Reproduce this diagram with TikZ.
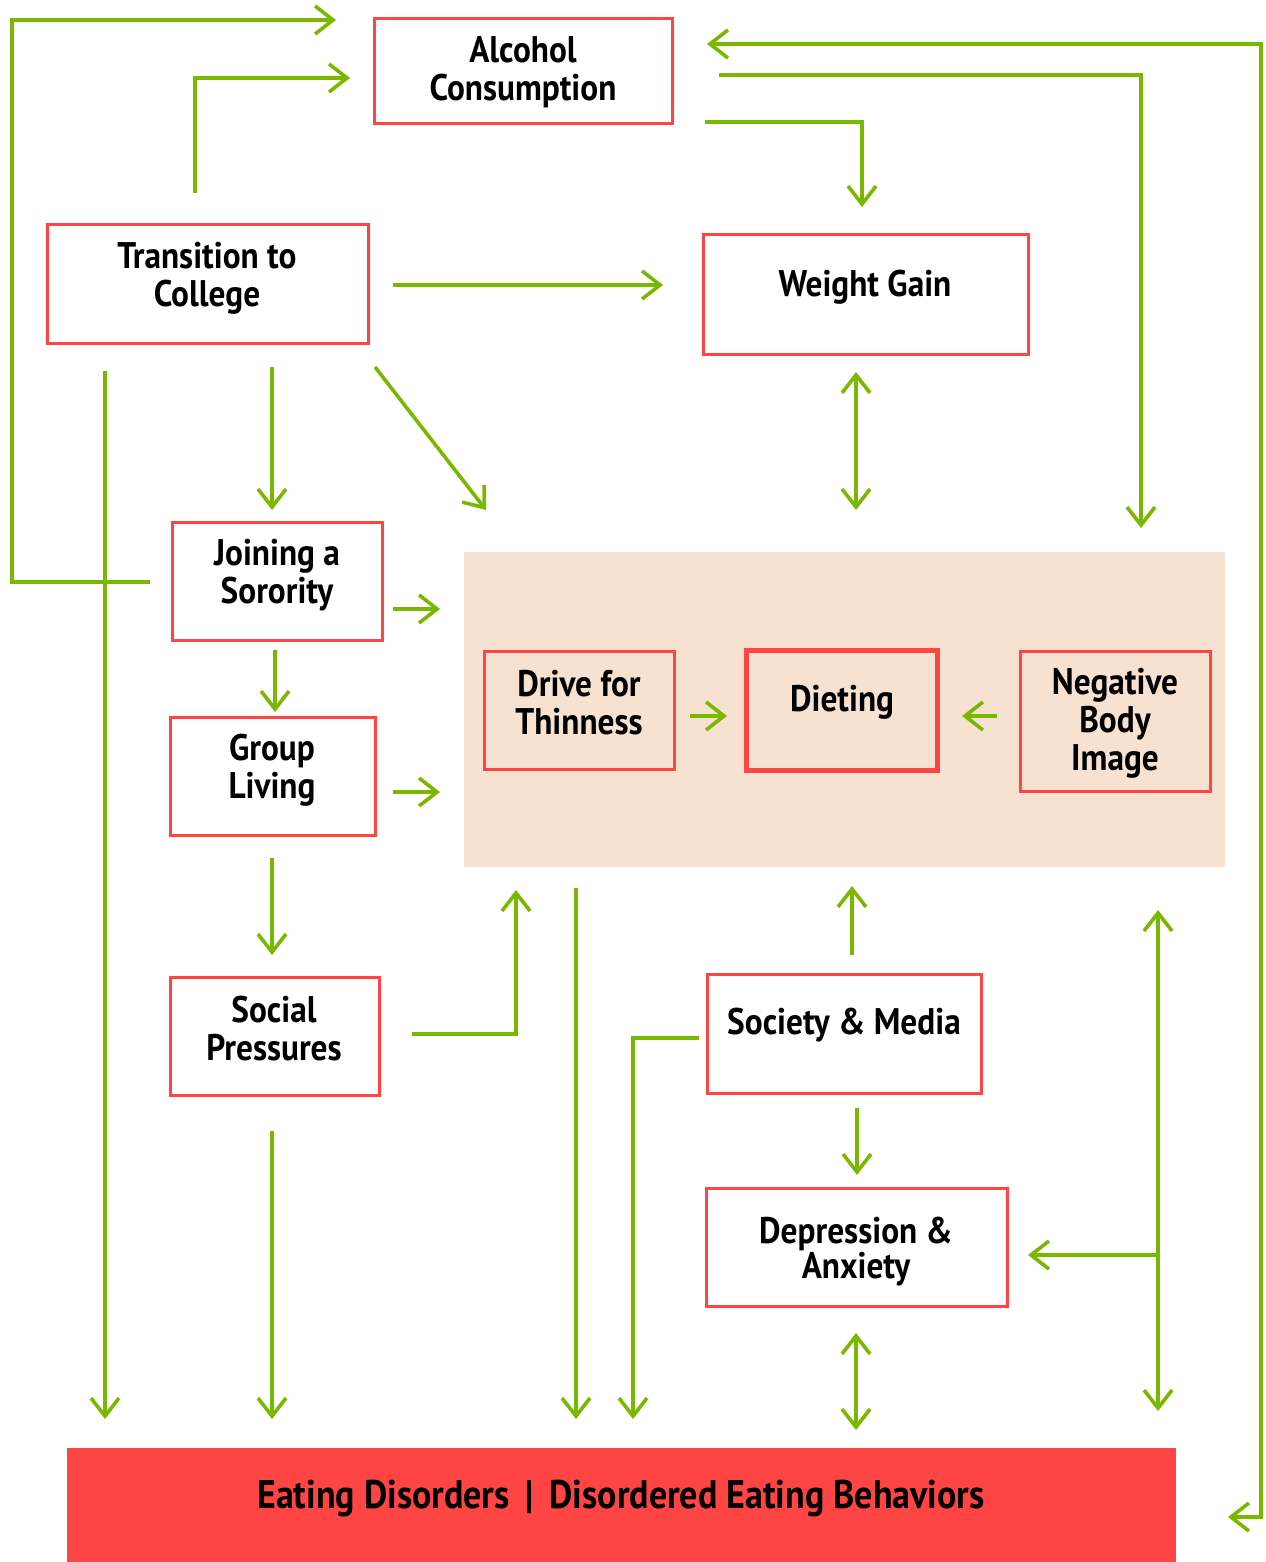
\documentclass[tikz,border=0pt]{standalone}
\usepackage{fontspec}
\setmainfont{PT Sans}[FakeStretch=0.9]
\usetikzlibrary{arrows.meta,calc}
\definecolor{grn}{RGB}{122,184,0}
\definecolor{rd}{RGB}{255,68,68}
\definecolor{pch}{RGB}{247,226,210}
\begin{document}
\begin{tikzpicture}[x=0.5pt,y=-0.5pt,every node/.style={outer sep=0pt},
  box/.style={draw=rd,line width=1.5pt,fill=white,inner sep=0pt},
  pbox/.style={draw=rd,line width=1.5pt,fill=pch,inner sep=0pt},
  txt/.style={align=center,font=\fontsize{18.5}{19}\selectfont\bfseries,inner sep=0pt},
  arr/.style={draw=grn,line width=1.8pt,-{Straight Barb[length=9pt,width=14pt,line width=1.8pt]}},
  dbl/.style={draw=grn,line width=1.8pt,{Straight Barb[length=9pt,width=14pt,line width=1.8pt]}-{Straight Barb[length=9pt,width=14pt,line width=1.8pt]}},
  ln/.style={draw=grn,line width=1.8pt}]
\useasboundingbox (0,0) rectangle (1265,1562);
% backgrounds
\node[fill=pch,minimum width=380.5pt,minimum height=157.5pt,inner sep=0pt] (peach) at (844.5,709.5) {};
\node[fill=rd,minimum width=554.5pt,minimum height=57pt,inner sep=0pt] (bar) at (621.5,1505) {};
% boxes
\node[box,minimum width=149pt,minimum height=52.5pt] (alc) at (523,71.5) {};
\node[box,minimum width=160.5pt,minimum height=59pt] (trans) at (207.5,284) {};
\node[box,minimum width=162.5pt,minimum height=59.5pt] (wg) at (865.5,294.5) {};
\node[box,minimum width=105pt,minimum height=59pt] (join) at (277,581) {};
\node[box,minimum width=102.5pt,minimum height=59pt] (group) at (272.5,776) {};
\node[box,minimum width=104.5pt,minimum height=59pt] (social) at (274.5,1036) {};
\node[pbox,minimum width=95pt,minimum height=59pt] (drive) at (579,710) {};
\node[pbox,line width=2.5pt,minimum width=95.5pt,minimum height=60pt] (diet) at (841.5,710) {};
\node[pbox,minimum width=95pt,minimum height=70pt] (neg) at (1115,721) {};
\node[box,minimum width=137pt,minimum height=59.5pt] (soc) at (844,1033.5) {};
\node[box,minimum width=150.5pt,minimum height=59pt] (dep) at (856.5,1247) {};
% texts
\node[txt] (alct) at (523,72) {Alcohol\\Consumption};
\node[txt] (transt) at (207,278) {Transition to\\College};
\node[txt] (wgt) at (865,287) {Weight Gain};
\node[txt] (joint) at (277,575) {Joining a\\Sorority};
\node[txt] (groupt) at (272,770) {Group\\Living};
\node[txt] (socialt) at (274,1029) {Social\\Pressures};
\node[txt] (drivet) at (579,703) {Drive for\\Thinness};
\node[txt] (dietdt) at (842,702) {Dieting};
\node[txt] (negt) at (1115,723) {Negative\\Body\\Image};
\node[txt] (soct) at (844,1025) {Society \& Media};
\node[txt,font=\fontsize{18.5}{17.5}\selectfont\bfseries] (dept) at (856,1252) {Depression \&\\Anxiety};
\node[txt,font=\fontsize{20}{20}\selectfont\bfseries] (bart) at (621,1498) {Eating Disorders \,|\, Disordered Eating Behaviors};
% connectors
\draw[arr] ([shift={(-22,1)}]join.west) -- ++(-138,0) |- ([shift={(-38,-51.5)}]alc.west);
\draw[arr] ([shift={(-12.5,-32)}]trans.north) |- ([shift={(-24,6.5)}]alc.west);
\draw[dbl] ([shift={(35,-27.5)}]alc.east) -- ++(554,0) |- ([shift={(52,12)}]bar.east);
\draw[arr] ([shift={(47,3.5)}]alc.east) -| ([shift={(26,-123)}]neg.north);
\draw[arr] ([shift={(33,50.5)}]alc.east) -| ([shift={(-3.5,-28)}]wg.north);
\draw[arr] ([shift={(25,1)}]trans.east) -- ([shift={(-40,-9.5)}]wg.west);
\draw[arr] ([shift={(7,24)}]trans.south east) -- ([shift={(22,-42)}]peach.north west);
\draw[arr] ([shift={(64.5,24)}]trans.south) -- ([shift={(-5,-12)}]join.north);
\draw[arr] ([shift={(58,28)}]trans.south west) -- ([shift={(38,-29)}]bar.north west);
\draw[dbl] ([shift={(-9.5,18)}]wg.south) -- ([shift={(11.5,-42)}]peach.north);
\draw[arr] ([shift={(11,28)}]join.east) -- ([shift={(-24,-100.5)}]peach.west);
\draw[arr] ([shift={(-2,10)}]join.south) -- ([shift={(2.5,-5)}]group.north);
\draw[arr] ([shift={(18,16)}]group.east) -- ([shift={(-24,82.5)}]peach.west);
\draw[arr] ([shift={(-0.5,23)}]group.south) -- ([shift={(-2.5,-22)}]social.north);
\draw[arr] ([shift={(33,-2)}]social.east) -| ([shift={(52,23)}]peach.south west);
\draw[arr] ([shift={(-2.5,36)}]social.south) -- ([shift={(205,-29)}]bar.north west);
\draw[arr] ([shift={(112,21)}]peach.south west) -- ([shift={(509,-29)}]bar.north west);
\draw[arr] ([shift={(-8,4.5)}]soc.west) -| ([shift={(566,-29)}]bar.north west);
\draw[arr] ([shift={(8,-19)}]soc.north) -- ([shift={(7.5,19)}]peach.south);
\draw[arr] ([shift={(13,15)}]soc.south) -- ([shift={(0.5,-13)}]dep.north);
\draw[dbl] ([shift={(-0.5,27)}]dep.south) -- ([shift={(234.5,-18)}]bar.north);
\draw[dbl] ([shift={(-67,43)}]peach.south east) -- ([shift={(-18,-37)}]bar.north east);
\draw[arr] ([shift={(-67,388)}]peach.south east) -- ([shift={(21,8)}]dep.east);
\draw[arr] ([shift={(16,6)}]drive.east) -- ([shift={(-19,6)}]diet.west);
\draw[arr] ([shift={(-23,-5)}]neg.west) -- ([shift={(25,6)}]diet.east);
\end{tikzpicture}
\end{document}
